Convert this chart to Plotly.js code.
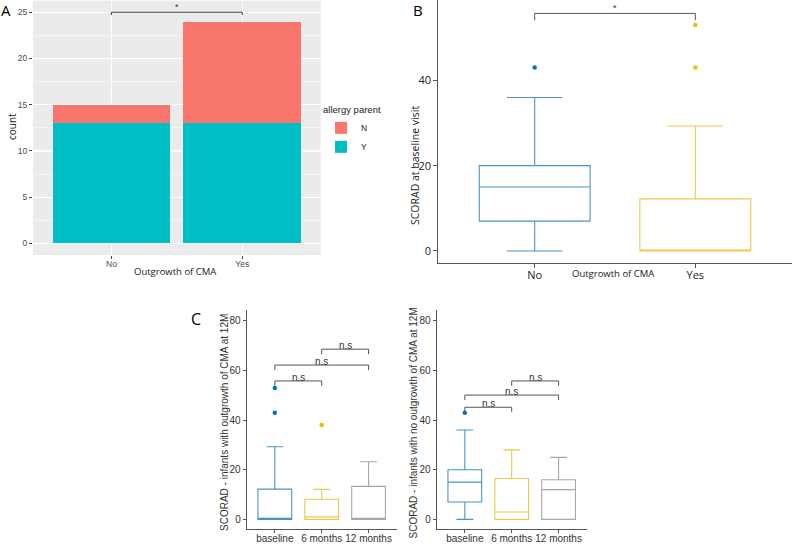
<!DOCTYPE html>
<html>
<head>
<meta charset="utf-8">
<script src="https://cdn.plot.ly/plotly-3.0.1.min.js"></script>
<style>html,body{margin:0;padding:0;background:#fff;}#chart{width:793px;height:545px;}</style>
</head>
<body>
<div id="chart"></div>
<script>
// ---------- Panel A data ----------
const aCategories = ['No', 'Yes'];
const aCountY = [13, 13];
const aCountN = [2, 11];
const aTicks = [0, 5, 10, 15, 20, 25];

// ---------- Panel B data ----------
const bGroups = ['No', 'Yes'];
const bQ1 = [7, 0];
const bMedian = [15, 0];
const bQ3 = [20, 12.2];
const bLower = [0, 0];
const bUpper = [36, 29.3];
const bOutlierGroup = ['No', 'Yes', 'Yes'];
const bOutlierValue = [43, 43, 53];
const bTicks = [0, 20, 40];

// ---------- Panel C data ----------
const cTimes = ['baseline', '6 months', '12 months'];
const cTicks = [0, 20, 40, 60, 80];
// infants with outgrowth of CMA at 12M
const cOutQ1 = [0, 0, 0];
const cOutMedian = [0, 1, 0];
const cOutQ3 = [12.2, 8.1, 13.3];
const cOutLower = [0, 0, 0];
const cOutUpper = [29.3, 12.1, 23.2];
const cOutOutlierTime = ['baseline', 'baseline', '6 months'];
const cOutOutlierValue = [43, 53, 38];
// infants with no outgrowth of CMA at 12M
const cNoQ1 = [7, 0, 0];
const cNoMedian = [15, 3, 12];
const cNoQ3 = [20, 16.5, 16];
const cNoLower = [0, 0, 0];
const cNoUpper = [36, 28, 25];
const cNoOutlierTime = ['baseline'];
const cNoOutlierValue = [43];

// ---------- significance brackets ----------
const aBracketFrom = [0], aBracketTo = [1], aBracketY = [25], aBracketLabel = ['*'];
const bBracketFrom = [0], bBracketTo = [1], bBracketY = [55.7], bBracketLabel = ['*'];
const cOutBracketFrom = [0, 0, 1], cOutBracketTo = [1, 2, 2], cOutBracketY = [55.8, 62.2, 68.6], cOutBracketLabel = ['n.s', 'n.s', 'n.s'];
const cNoBracketFrom = [0, 0, 1], cNoBracketTo = [1, 2, 2], cNoBracketY = [45.2, 50.1, 55.8], cNoBracketLabel = ['n.s', 'n.s', 'n.s'];

// ---------- styles ----------
const W = 793, H = 545;
const fx = v => v / W;
const fy = v => 1 - v / H;
const groupLine = ['#4a93c8', '#ecc94a', '#a8a8a8'];
const groupDot = ['#0073C2', '#EFC000', '#868686'];
const SANS = 'Liberation Sans, Arial, sans-serif';
const HUM = 'Open Sans, Noto Sans, sans-serif';

const traces = [];
// Panel A stacked bars
traces.push({type: 'bar', x: aCategories, y: aCountY, name: 'Y', width: 0.9,
  marker: {color: '#00BFC4'}, xaxis: 'x', yaxis: 'y', legendrank: 2, hoverinfo: 'skip'});
traces.push({type: 'bar', x: aCategories, y: aCountN, name: 'N', width: 0.9,
  marker: {color: '#F8766D'}, xaxis: 'x', yaxis: 'y', legendrank: 1, hoverinfo: 'skip'});

function addBoxes(cats, q1, med, q3, lo, hi, xa, ya, width) {
  cats.forEach((c, i) => {
    traces.push({type: 'box', x: [c], q1: [q1[i]], median: [med[i]], q3: [q3[i]],
      lowerfence: [lo[i]], upperfence: [hi[i]], width: width, boxpoints: false,
      line: {color: groupLine[i], width: 1.1}, fillcolor: 'rgba(255,255,255,0)',
      xaxis: xa, yaxis: ya, showlegend: false, hoverinfo: 'skip'});
  });
}
function addOutliers(cats, times, vals, xa, ya) {
  traces.push({type: 'scatter', mode: 'markers', x: times, y: vals,
    marker: {size: 4.5, color: times.map(t => groupDot[cats.indexOf(t)])},
    xaxis: xa, yaxis: ya, showlegend: false, hoverinfo: 'skip'});
}
addBoxes(bGroups, bQ1, bMedian, bQ3, bLower, bUpper, 'x2', 'y2', 0.69);
addOutliers(bGroups, bOutlierGroup, bOutlierValue, 'x2', 'y2');
addBoxes(cTimes, cOutQ1, cOutMedian, cOutQ3, cOutLower, cOutUpper, 'x3', 'y3', 0.72);
addOutliers(cTimes, cOutOutlierTime, cOutOutlierValue, 'x3', 'y3');
addBoxes(cTimes, cNoQ1, cNoMedian, cNoQ3, cNoLower, cNoUpper, 'x4', 'y4', 0.72);
addOutliers(cTimes, cNoOutlierTime, cNoOutlierValue, 'x4', 'y4');

const shapes = [];
const annotations = [];
// gray panel background for A
shapes.push({type: 'rect', xref: 'x domain', yref: 'y domain', x0: 0, x1: 1, y0: 0, y1: 1,
  fillcolor: '#EBEBEB', line: {width: 0}, layer: 'below'});

function addBrackets(from, to, ys, labels, drop, xa, ya, fontSize, color, lift) {
  from.forEach((f, i) => {
    const t = to[i], y = ys[i];
    const ln = {color: color, width: 1};
    shapes.push({type: 'line', xref: xa, yref: ya, x0: f, x1: t, y0: y, y1: y, line: ln});
    shapes.push({type: 'line', xref: xa, yref: ya, x0: f, x1: f, y0: y, y1: y - drop, line: ln});
    shapes.push({type: 'line', xref: xa, yref: ya, x0: t, x1: t, y0: y, y1: y - drop, line: ln});
    annotations.push({xref: xa, yref: ya, x: (f + t) / 2, y: y, yanchor: 'bottom', yshift: lift,
      text: labels[i], showarrow: false, font: {family: SANS, size: fontSize, color: '#333'}});
  });
}
addBrackets(aBracketFrom, aBracketTo, aBracketY, aBracketLabel, 0.3, 'x', 'y', 9, '#444', -2);
addBrackets(bBracketFrom, bBracketTo, bBracketY, bBracketLabel, 1.6, 'x2', 'y2', 9, '#555', -2);
addBrackets(cOutBracketFrom, cOutBracketTo, cOutBracketY, cOutBracketLabel, 2, 'x3', 'y3', 10, '#555', -4);
addBrackets(cNoBracketFrom, cNoBracketTo, cNoBracketY, cNoBracketLabel, 2, 'x4', 'y4', 10, '#555', -4);

function txt(text, x, y, size, family, color, angle) {
  annotations.push({xref: 'paper', yref: 'paper', x: fx(x), y: fy(y), xanchor: 'center', yanchor: 'middle',
    text: text, showarrow: false, textangle: angle || 0, font: {family: family, size: size, color: color}});
}
// panel letters
txt('A', 6, 10.5, 15, HUM, '#000');
txt('B', 418, 10.5, 15, HUM, '#000');
txt('C', 196, 319, 16, HUM, '#000');
// axis titles
txt('count', 12, 127, 10, HUM, '#222', -90);
txt('Outgrowth of CMA', 175, 271, 9.5, HUM, '#222');
txt('Outgrowth of CMA', 613, 273, 9.5, HUM, '#222');
txt('SCORAD at baseline visit', 415, 166, 10.5, HUM, '#222', -90);
txt('SCORAD - infants with outgrowth of CMA at 12M', 224, 423, 10, SANS, '#333', -90);
txt('SCORAD - infants with no outgrowth of CMA at 12M', 412.5, 423, 10, SANS, '#333', -90);

const boxAxisX = {type: 'category', range: [-0.6, 2.6], showline: true, linecolor: '#555', linewidth: 1,
  ticks: 'outside', ticklen: 3, tickcolor: '#555', showgrid: false, zeroline: false, ticklabelstandoff: -3,
  tickfont: {family: SANS, size: 10, color: '#333'}, categoryorder: 'array', categoryarray: cTimes};
const boxAxisY = {range: [-4, 84.4], tickvals: cTicks, showline: true, linecolor: '#555', linewidth: 1,
  ticks: 'outside', ticklen: 3, tickcolor: '#555', showgrid: false, zeroline: false,
  tickfont: {family: SANS, size: 10, color: '#333'}};

const layout = {
  width: W, height: H, margin: {l: 0, r: 0, t: 0, b: 0},
  paper_bgcolor: '#fff', plot_bgcolor: 'rgba(0,0,0,0)',
  barmode: 'stack', showlegend: true,
  legend: {x: fx(321), y: fy(101), xanchor: 'left', yanchor: 'top', traceorder: 'normal', tracegroupgap: 0,
    title: {text: 'allergy parent', font: {family: SANS, size: 9.5, color: '#222'}},
    font: {family: SANS, size: 8.5, color: '#222'}, bgcolor: 'rgba(0,0,0,0)', itemwidth: 30},
  xaxis: {domain: [fx(33), fx(320.7)], anchor: 'y', type: 'category', range: [-0.6, 1.6],
    categoryorder: 'array', categoryarray: aCategories, ticklabelstandoff: -2,
    showgrid: true, gridcolor: '#fff', gridwidth: 1.2, zeroline: false, showline: false,
    ticks: 'outside', ticklen: 3, tickcolor: '#444', tickfont: {family: SANS, size: 8.5, color: '#4D4D4D'}},
  yaxis: {domain: [fy(255), fy(0.7)], anchor: 'x', range: [-1.25, 26.25], tickvals: aTicks,
    showgrid: true, gridcolor: '#fff', gridwidth: 1.2, zeroline: false, showline: false,
    minor: {tick0: 0, dtick: 2.5, showgrid: true, gridcolor: '#fff', gridwidth: 0.5},
    ticks: 'outside', ticklen: 3, tickcolor: '#444', tickfont: {family: SANS, size: 8.5, color: '#4D4D4D'}},
  xaxis2: {domain: [fx(438.3), fx(791.7)], anchor: 'y2', type: 'category', range: [-0.6, 1.6],
    categoryorder: 'array', categoryarray: bGroups, ticklabelstandoff: -3,
    showline: true, linecolor: '#555', linewidth: 1, ticks: 'outside', ticklen: 4, tickcolor: '#555',
    showgrid: false, zeroline: false, tickfont: {family: HUM, size: 11, color: '#222'}},
  yaxis2: {domain: [fy(263.3), 1], anchor: 'x2', range: [-2.9, 58.85], tickvals: bTicks,
    showline: true, linecolor: '#555', linewidth: 1, ticks: 'outside', ticklen: 4, tickcolor: '#555',
    showgrid: false, zeroline: false, tickfont: {family: HUM, size: 11, color: '#222'}},
  xaxis3: Object.assign({}, boxAxisX, {domain: [fx(246.7), fx(396.7)], anchor: 'y3'}),
  yaxis3: Object.assign({}, boxAxisY, {domain: [fy(529.3), fy(310)], anchor: 'x3'}),
  xaxis4: Object.assign({}, boxAxisX, {domain: [fx(436.7), fx(586.7)], anchor: 'y4'}),
  yaxis4: Object.assign({}, boxAxisY, {domain: [fy(529.3), fy(310)], anchor: 'x4'}),
  shapes: shapes, annotations: annotations
};

Plotly.newPlot('chart', traces, layout, {displayModeBar: false, staticPlot: true});
</script>
</body>
</html>
